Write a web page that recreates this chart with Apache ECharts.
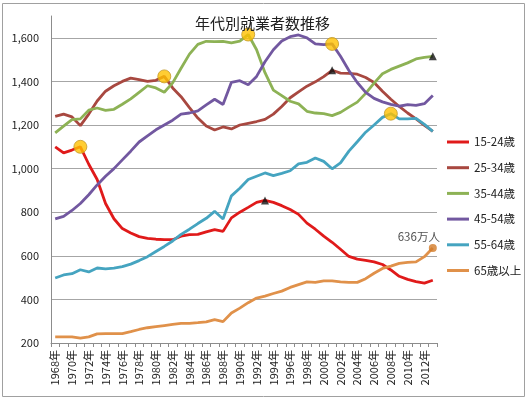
<!DOCTYPE html>
<html>
<head>
<meta charset="utf-8">
<script src="https://cdn.jsdelivr.net/npm/echarts@6/dist/echarts.min.js"></script>
<style>
html, body { margin: 0; padding: 0; background: #fff; }
#chart { width: 528px; height: 399px; }
</style>
</head>
<body>
<div id="chart"></div>
<script>
// 年 (1968〜2013)
const years = Array.from({ length: 46 }, (_, i) => (1968 + i) + '年');

const groups = ['15-24歳', '25-34歳', '35-44歳', '45-54歳', '55-64歳', '65歳以上'];
const colors = ['#e01a1a', '#a84840', '#8db255', '#7258a0', '#45a4c0', '#e0914a'];

// 就業者数 (万人)
const age15_24 = [1100,1072,1085,1100,1020,950,840,770,725,705,688,680,676,674,674,690,697,698,710,720,712,774,800,822,845,854,845,830,812,790,750,722,690,662,630,597,585,579,572,560,535,506,492,482,475,488];
const age25_34 = [1240,1250,1237,1197,1250,1310,1355,1380,1400,1415,1408,1400,1405,1423,1370,1330,1280,1232,1195,1177,1191,1182,1200,1208,1216,1226,1250,1285,1325,1352,1378,1398,1422,1451,1438,1437,1433,1418,1395,1355,1318,1285,1255,1228,1198,1171];
const age35_44 = [1164,1195,1225,1228,1268,1278,1267,1272,1295,1320,1350,1380,1370,1350,1393,1460,1525,1570,1584,1582,1584,1577,1585,1615,1545,1440,1360,1335,1309,1297,1263,1255,1252,1243,1258,1282,1305,1345,1392,1435,1455,1470,1485,1503,1510,1515];
const age45_54 = [769,781,808,840,880,925,965,1000,1040,1080,1122,1150,1178,1200,1222,1250,1255,1265,1292,1318,1294,1396,1403,1385,1423,1490,1545,1585,1605,1613,1600,1572,1569,1572,1515,1450,1395,1350,1322,1306,1295,1286,1293,1290,1298,1335];
const age55_64 = [498,512,518,536,526,544,540,543,550,562,578,596,620,643,668,698,722,748,772,804,769,875,910,950,965,980,968,978,990,1022,1029,1049,1033,999,1026,1080,1123,1167,1200,1235,1252,1228,1228,1230,1203,1171];
const age65plus = [228,228,228,222,228,242,243,243,243,252,262,270,275,280,285,290,290,293,297,307,298,338,360,385,406,415,427,438,455,468,480,478,485,485,480,478,478,495,520,542,553,565,570,572,596,636];

const values = [age15_24, age25_34, age35_44, age45_54, age55_64, age65plus];

// 注目点
const circleYears = ['1971年', '1981年', '1991年', '2001年', '2008年'];  // 15-24 〜 55-64
const peakYears = ['1993年', '2001年', '2013年'];                      // 15-24 〜 35-44
const lastYear = '2013年';

const yTicks = [200, 400, 600, 800, 1000, 1200, 1400, 1600];

const pick = (list) => list.map((y, k) => {
  const i = years.indexOf(y);
  return [i, values[k][i]];
});

const font = '"Noto Sans CJK JP", sans-serif';

const chart = echarts.init(document.getElementById('chart'));

const lineSeries = groups.map((name, k) => ({
  name: name,
  type: 'line',
  data: values[k],
  symbol: 'none',
  lineStyle: { width: 2.8, color: colors[k] },
  itemStyle: { color: colors[k] },
  z: 2
}));

const lastIdx = years.indexOf(lastYear);

chart.setOption({
  animation: false,
  textStyle: { fontFamily: font },
  title: {
    text: '年代別就業者数推移',
    left: 190,
    top: 11,
    textStyle: { fontSize: 15, fontWeight: 'normal', color: '#222', fontFamily: font }
  },
  legend: {
    data: groups,
    orient: 'vertical',
    left: 442,
    top: 130,
    icon: 'rect',
    itemWidth: 22,
    itemHeight: 3,
    itemGap: 11.7,
    textStyle: { fontSize: 11.5, color: '#222', lineHeight: 14 }
  },
  grid: { left: 51, right: 91, top: 16, bottom: 56, containLabel: false, outerBoundsMode: 'none' },
  xAxis: {
    type: 'category',
    data: years,
    boundaryGap: true,
    axisLine: { lineStyle: { color: '#8c8c8c' } },
    axisTick: { show: true, interval: 0, length: 4, lineStyle: { color: '#8c8c8c' } },
    axisLabel: { rotate: 90, interval: 1, fontSize: 11, color: '#222', margin: 7 }
  },
  yAxis: {
    type: 'value',
    min: yTicks[0],
    max: 1700,
    interval: 200,
    axisLine: { show: true, lineStyle: { color: '#8c8c8c' } },
    axisTick: { show: false },
    axisLabel: {
      fontSize: 11, color: '#222', margin: 12, showMaxLabel: false,
      formatter: (v) => yTicks.includes(v) ? v.toLocaleString('en-US') : ''
    },
    splitLine: {
      show: true,
      lineStyle: { color: ['#a6a6a6', '#a6a6a6', '#a6a6a6', '#a6a6a6', '#a6a6a6', '#a6a6a6', '#a6a6a6', '#a6a6a6', 'rgba(0,0,0,0)'] }
    }
  },
  graphic: [{
    type: 'rect',
    shape: { x: 2.5, y: 3.5, width: 522, height: 393 },
    style: { fill: 'none', stroke: '#a0a0a0', lineWidth: 1 },
    silent: true
  }],
  series: lineSeries.concat([
    {
      type: 'scatter',
      data: pick(circleYears),
      symbol: 'circle',
      symbolSize: 13,
      itemStyle: { color: '#ffc000', borderColor: '#c39a2a', borderWidth: 1 },
      z: 4
    },
    {
      type: 'scatter',
      data: pick(peakYears),
      symbol: 'triangle',
      symbolSize: 8,
      itemStyle: { color: '#111' },
      z: 4
    },
    {
      type: 'scatter',
      data: [[lastIdx, age65plus[lastIdx]]],
      symbol: 'circle',
      symbolSize: 8,
      itemStyle: { color: '#d27a28' },
      label: {
        show: true,
        position: 'top',
        distance: 2,
        offset: [-14, 0],
        fontSize: 11.5,
        color: '#222',
        formatter: (p) => p.value[1] + '万人'
      },
      z: 4
    }
  ])
});
</script>
</body>
</html>
